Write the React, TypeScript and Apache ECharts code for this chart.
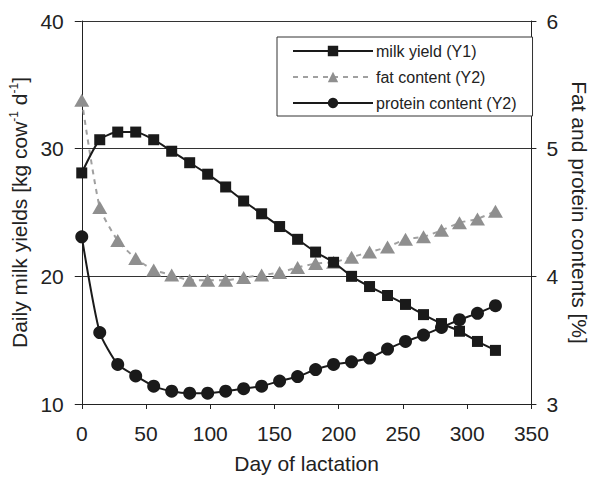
import React, { useEffect, useRef } from "react";
import * as echarts from "echarts";

const days = [0, 14, 28, 42, 56, 70, 84, 98, 112, 126, 140, 154, 168, 182, 196, 210, 224, 238, 252, 266, 280, 294, 308, 322];
const milkYield = [28.1, 30.7, 31.3, 31.3, 30.7, 29.8, 28.9, 28.0, 27.0, 25.9, 24.9, 23.9, 22.9, 21.9, 21.1, 20.0, 19.2, 18.5, 17.8, 17.0, 16.3, 15.7, 14.9, 14.2];
const fatContent = [5.38, 4.54, 4.28, 4.14, 4.05, 4.01, 3.97, 3.97, 3.97, 3.99, 4.01, 4.03, 4.07, 4.10, 4.11, 4.15, 4.19, 4.23, 4.29, 4.31, 4.36, 4.42, 4.45, 4.51];
const proteinContent = [4.31, 3.56, 3.31, 3.22, 3.14, 3.10, 3.085, 3.085, 3.10, 3.12, 3.14, 3.18, 3.215, 3.27, 3.31, 3.33, 3.36, 3.43, 3.49, 3.54, 3.60, 3.66, 3.71, 3.77];
const seriesNames = ["milk yield (Y1)", "fat content (Y2)", "protein content (Y2)"];

const FONT = "'Liberation Sans', Arial, sans-serif";
const TXT = "#222";
const FS = 21;

export default function App() {
  const ref = useRef<HTMLDivElement>(null);
  useEffect(() => {
    if (!ref.current) return;
    const chart = echarts.init(ref.current, null, { renderer: "svg" });
    const pair = (ys: number[]) => days.map((d, i) => [d, ys[i]]);
    chart.setOption({
      animation: false,
      backgroundColor: "#fff",
      textStyle: { fontFamily: FONT, color: TXT },
      grid: { left: 80, right: 60, top: 21, bottom: 73 },
      legend: {
        orient: "vertical",
        left: 277,
        top: 37,
        width: 254,
        padding: [6, 16, 5, 15],
        itemWidth: 80,
        itemHeight: 13,
        itemGap: 10,
        borderColor: "#333",
        borderWidth: 1,
        backgroundColor: "#fff",
        textStyle: { fontSize: 16, color: TXT, fontFamily: FONT, padding: [0, 0, 0, -2] },
        data: seriesNames,
      },
      xAxis: {
        type: "value",
        min: 0,
        max: 350,
        interval: 50,
        name: "Day of lactation",
        nameLocation: "middle",
        nameGap: 49,
        nameTextStyle: { fontSize: FS, color: TXT, fontFamily: FONT },
        axisLine: { onZero: false, lineStyle: { color: "#222", width: 1 } },
        axisTick: { show: true, length: 5, lineStyle: { color: "#222" } },
        axisLabel: { fontSize: FS, color: TXT, margin: 19, fontFamily: FONT },
        splitLine: { show: false },
      },
      yAxis: [
        {
          type: "value",
          min: 10,
          max: 40,
          interval: 10,
          position: "left",
          name: "{a|Daily milk yields [kg cow}{s|-1}{a| d}{s|-1}{a|]}",
          nameLocation: "middle",
          nameGap: 42,
          nameRotate: 90,
          nameTextStyle: {
            rich: {
              a: { fontSize: FS, color: TXT, fontFamily: FONT },
              s: { fontSize: 12, color: TXT, fontFamily: FONT, padding: [0, 0, 10, 0] },
            },
          },
          axisLine: { show: true, lineStyle: { color: "#222", width: 1 } },
          axisTick: { show: true, length: 7, lineStyle: { color: "#222" } },
          axisLabel: { fontSize: FS, color: TXT, margin: 18, fontFamily: FONT },
          splitLine: { show: true, lineStyle: { color: "#333", width: 1 } },
        },
        {
          type: "value",
          min: 3,
          max: 6,
          interval: 1,
          position: "right",
          name: "Fat and protein contents [%]",
          nameLocation: "middle",
          nameGap: 35,
          nameRotate: -90,
          nameTextStyle: { fontSize: FS, color: TXT, fontFamily: FONT },
          axisLine: { show: true, lineStyle: { color: "#222", width: 1 } },
          axisTick: { show: true, length: 5, lineStyle: { color: "#222" } },
          axisLabel: { fontSize: FS, color: TXT, margin: 15, fontFamily: FONT },
          splitLine: { show: false },
        },
      ],
      series: [
        {
          name: seriesNames[0],
          type: "line",
          yAxisIndex: 0,
          data: pair(milkYield),
          smooth: 0.2,
          symbol: "rect",
          symbolSize: 11,
          itemStyle: { color: "#1a1a1a" },
          lineStyle: { color: "#1a1a1a", width: 2 },
          z: 3,
        },
        {
          name: seriesNames[1],
          type: "line",
          yAxisIndex: 1,
          data: pair(fatContent),
          smooth: 0.2,
          symbol: "triangle",
          symbolSize: [15, 13],
          itemStyle: { color: "#8f8f8f" },
          lineStyle: { color: "#a0a0a0", width: 2, type: [5, 5] },
          z: 2,
        },
        {
          name: seriesNames[2],
          type: "line",
          yAxisIndex: 1,
          data: pair(proteinContent),
          smooth: 0.2,
          symbol: "circle",
          symbolSize: 13,
          itemStyle: { color: "#1a1a1a" },
          lineStyle: { color: "#1a1a1a", width: 2 },
          z: 4,
        },
      ],
    });
    return () => chart.dispose();
  }, []);
  return (
    <div
      ref={ref}
      style={{ position: "absolute", left: 0, top: 0, width: 598, height: 479 }}
    />
  );
}
